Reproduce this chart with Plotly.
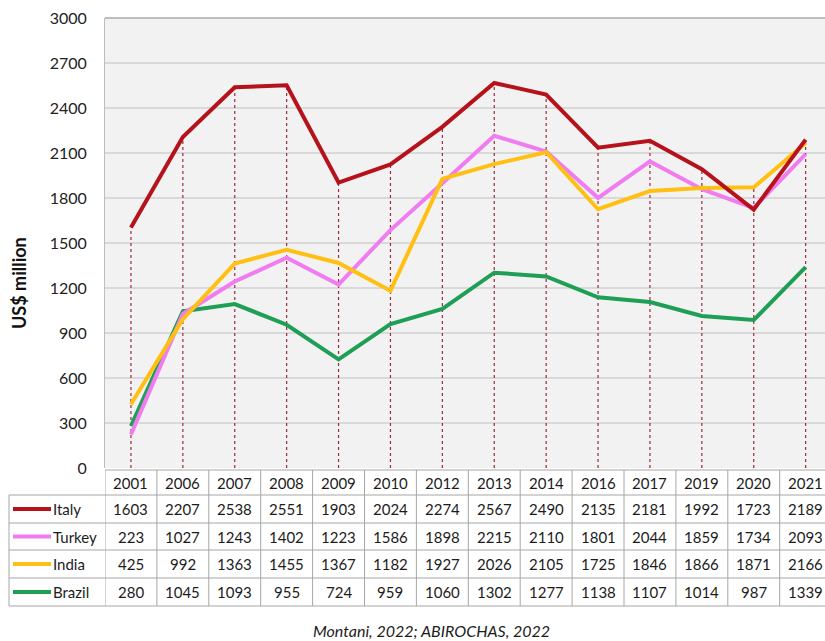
import plotly.graph_objects as go

# ---- data -------------------------------------------------------------
years = ["2001", "2006", "2007", "2008", "2009", "2010", "2012",
         "2013", "2014", "2016", "2017", "2019", "2020", "2021"]
italy = [1603, 2207, 2538, 2551, 1903, 2024, 2274, 2567, 2490, 2135, 2181, 1992, 1723, 2189]
turkey = [223, 1027, 1243, 1402, 1223, 1586, 1898, 2215, 2110, 1801, 2044, 1859, 1734, 2093]
india = [425, 992, 1363, 1455, 1367, 1182, 1927, 2026, 2105, 1725, 1846, 1866, 1871, 2166]
brazil = [280, 1045, 1093, 955, 724, 959, 1060, 1302, 1277, 1138, 1107, 1014, 987, 1339]
countries = ["Italy", "Turkey", "India", "Brazil"]
y_ticks = [0, 300, 600, 900, 1200, 1500, 1800, 2100, 2400, 2700, 3000]
y_title = "US$ million"
source_note = "Montani, 2022; ABIROCHAS, 2022"

series = {"Italy": italy, "Turkey": turkey, "India": india, "Brazil": brazil}
colors = {"Italy": "#b5121b", "Turkey": "#f07cf0", "India": "#ffc013", "Brazil": "#1e9f55"}

W, H = 825, 641
FONT = "Lato"


def px_x(p):
    return p / W


def px_y(p):
    return 1 - p / H


def label(x, y, text, size=15, xref="paper", yref="paper", xanchor="center", **kw):
    return dict(x=x, y=y, xref=xref, yref=yref, text=text, showarrow=False,
                xanchor=xanchor, yanchor="middle",
                font=dict(family=FONT, size=size, color=kw.pop("color", "#1c1c1c")), **kw)


fig = go.Figure()

# drop lines from the highest value of each year down to the axis
drop_x, drop_y = [], []
for i, yr in enumerate(years):
    top = max(series[c][i] for c in countries)
    drop_x += [yr, yr, None]
    drop_y += [0, top, None]
fig.add_trace(go.Scatter(x=drop_x, y=drop_y, mode="lines", hoverinfo="skip",
                         line=dict(color="#9a2c3c", width=1.2, dash="dot"),
                         showlegend=False))

# country lines
for c in ["Brazil", "Turkey", "India", "Italy"]:
    fig.add_trace(go.Scatter(x=years, y=series[c], mode="lines", name=c,
                             line=dict(color=colors[c], width=4),
                             showlegend=False))

# ---- data table under the chart ---------------------------------------
row_edges = [470, 495, 523, 550, 578, 606]
border = "#a6a6a6"
shapes = []
annotations = []

# header row with the years (category index positions on the x axis)
hy = px_y((row_edges[0] + row_edges[1]) / 2)
for i, yr in enumerate(years):
    annotations.append(label(i, hy, yr, xref="x"))

for r, c in enumerate(countries):
    cy = px_y((row_edges[r + 1] + row_edges[r + 2]) / 2)
    for i in range(len(years)):
        annotations.append(label(i, cy, str(series[c][i]), xref="x"))
    # legend key + label
    shapes.append(dict(type="line", xref="paper", yref="paper",
                       x0=px_x(13), x1=px_x(51), y0=cy, y1=cy,
                       line=dict(color=colors[c], width=4)))
    annotations.append(label(px_x(51), cy, c, xanchor="left"))

# horizontal table borders
for k, e in enumerate(row_edges):
    x0 = px_x(105) if k == 0 else px_x(9)
    shapes.append(dict(type="line", xref="paper", yref="paper", x0=x0, x1=1,
                       y0=px_y(e), y1=px_y(e), line=dict(color=border, width=1)))
# vertical table borders on category boundaries
for i in range(len(years) + 1):
    shapes.append(dict(type="line", xref="x", yref="paper", x0=i - 0.5, x1=i - 0.5,
                       y0=px_y(row_edges[0]), y1=px_y(row_edges[-1]),
                       line=dict(color=border, width=1)))
shapes.append(dict(type="line", xref="paper", yref="paper", x0=px_x(9), x1=px_x(9),
                   y0=px_y(row_edges[1]), y1=px_y(row_edges[-1]),
                   line=dict(color=border, width=1)))
# top border of the plot area
shapes.append(dict(type="line", xref="paper", yref="paper", x0=px_x(105), x1=1,
                   y0=px_y(18), y1=px_y(18), line=dict(color="#bdbdbd", width=2)))

# axis title and source note
annotations.append(label(px_x(19), px_y(283), "<b>" + y_title + "</b>", size=18,
                         textangle=-90, color="#111111"))
annotations.append(label(px_x(431), px_y(630), "<i>" + source_note + "</i>", size=16))

fig.update_layout(
    width=W, height=H,
    margin=dict(l=0, r=0, t=0, b=0, autoexpand=False),
    paper_bgcolor="white",
    plot_bgcolor="#f2f2f2",
    shapes=shapes,
    annotations=annotations,
    xaxis=dict(type="category", domain=[px_x(105), 1],
               range=[-0.5, -0.5 + (W - 105) / 51.9],
               showticklabels=False, showgrid=False, zeroline=False,
               showline=False, fixedrange=True),
    yaxis=dict(domain=[px_y(468), px_y(18)], range=[0, 3000],
               tickvals=y_ticks, ticktext=[str(v) for v in y_ticks],
               tickfont=dict(family=FONT, size=16, color="#222222"),
               ticklabelstandoff=14, automargin=False,
               showgrid=True, gridcolor="#d9d9d9", gridwidth=2,
               zeroline=False, showline=True, linecolor="#bdbdbd", linewidth=1,
               fixedrange=True),
)

fig.write_html("out.html")
